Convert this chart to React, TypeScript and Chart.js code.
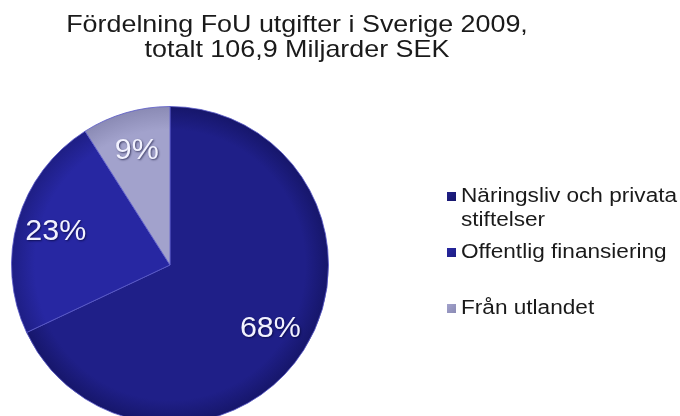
import React, { useEffect, useRef } from "react";
import { Chart, registerables } from "chart.js";

Chart.register(...registerables);

const titleLines = ["Fördelning FoU utgifter i Sverige 2009,", "totalt 106,9 Miljarder SEK"];
const categories: string[][] = [["Näringsliv och privata", "stiftelser"], ["Offentlig finansiering"], ["Från utlandet"]];
const shares = [68, 23, 9];
const sliceColors = ["#1f1f88", "#2727a2", "#a2a2cc"];
const rimColors = ["#16166a", "#1e1e84", "#8a8ab4"];

const FONT = "'Liberation Sans', Arial, sans-serif";

const overlayPlugin = {
  id: "overlay",
  afterDatasetsDraw(chart: any) {
    const ctx = chart.ctx as CanvasRenderingContext2D;
    const meta = chart.getDatasetMeta(0);
    const data = chart.data.datasets[0].data as number[];
    ctx.save();
    ctx.textAlign = "center";
    ctx.textBaseline = "middle";
    ctx.font = `29px ${FONT}`;
    meta.data.forEach((arc: any, i: number) => {
      const { x, y, startAngle, endAngle, outerRadius } = arc.getProps(["x", "y", "startAngle", "endAngle", "outerRadius"], true);
      const mid = (startAngle + endAngle) / 2;
      const f = 0.75;
      const px = x + Math.cos(mid) * outerRadius * f;
      const py = y + Math.sin(mid) * outerRadius * f;
      ctx.save();
      ctx.translate(px, py);
      ctx.scale(1.05, 1);
      ctx.shadowColor = "rgba(0,0,40,0.6)";
      ctx.shadowBlur = 2;
      ctx.shadowOffsetX = 1;
      ctx.shadowOffsetY = 1;
      ctx.fillStyle = "#f2f2ff";
      ctx.fillText(`${data[i]}%`, 0, 0);
      ctx.restore();
    });
    ctx.restore();
  },
  afterDraw(chart: any) {
    const ctx = chart.ctx as CanvasRenderingContext2D;
    ctx.save();
    // Title
    ctx.fillStyle = "#1a1a1a";
    ctx.textAlign = "center";
    ctx.textBaseline = "alphabetic";
    ctx.font = `24px ${FONT}`;
    titleLines.forEach((line, i) => {
      ctx.save();
      ctx.translate(297, 32 + i * 25);
      ctx.scale(1.12, 1);
      ctx.fillText(line, 0, 0);
      ctx.restore();
    });
    // Legend
    ctx.font = `20px ${FONT}`;
    ctx.textAlign = "left";
    const labels = chart.data.labels as string[][];
    labels.forEach((lab, i) => {
      const base = 202 + i * 56;
      const g = ctx.createLinearGradient(447, base - 10, 456, base - 1);
      g.addColorStop(0, sliceColors[i]);
      g.addColorStop(1, rimColors[i]);
      ctx.fillStyle = g;
      ctx.fillRect(447, base - 10, 9, 9);
      ctx.fillStyle = "#1a1a1a";
      lab.forEach((line, j) => {
        ctx.save();
        ctx.translate(461, base + j * 24);
        ctx.scale(1.13, 1);
        ctx.fillText(line, 0, 0);
        ctx.restore();
      });
    });
    ctx.restore();
  },
};

export default function App() {
  const ref = useRef<HTMLCanvasElement>(null);
  useEffect(() => {
    if (!ref.current) return;
    const chart = new Chart(ref.current, {
      type: "pie",
      data: {
        labels: categories as any,
        datasets: [
          {
            data: shares,
            backgroundColor: (c: any) => {
              const i = c.dataIndex;
              const area = c.chart.chartArea;
              if (!area || i === undefined) return sliceColors[i ?? 0];
              const cx = (area.left + area.right) / 2;
              const cy = (area.top + area.bottom) / 2;
              const r = Math.min(area.right - area.left, area.bottom - area.top) / 2;
              const g = c.chart.ctx.createRadialGradient(cx, cy, 0, cx, cy, r);
              g.addColorStop(0, sliceColors[i]);
              g.addColorStop(0.85, sliceColors[i]);
              g.addColorStop(1, rimColors[i]);
              return g;
            },
            borderColor: "rgba(90,90,200,0.8)",
            borderWidth: 1,
            hoverOffset: 0,
          },
        ],
      },
      options: {
        responsive: false,
        animation: false,
        rotation: 0,
        layout: { padding: { left: 11, top: 106, right: 351, bottom: 16 } },
        plugins: {
          legend: { display: false },
          title: { display: false },
          tooltip: { enabled: false },
        },
      },
      plugins: [overlayPlugin],
    });
    return () => chart.destroy();
  }, []);
  return (
    <div style={{ position: "fixed", left: 0, top: 0, width: 680, height: 416, overflow: "hidden", background: "#fff" }}>
      <canvas ref={ref} width={680} height={440} style={{ display: "block" }} />
    </div>
  );
}
